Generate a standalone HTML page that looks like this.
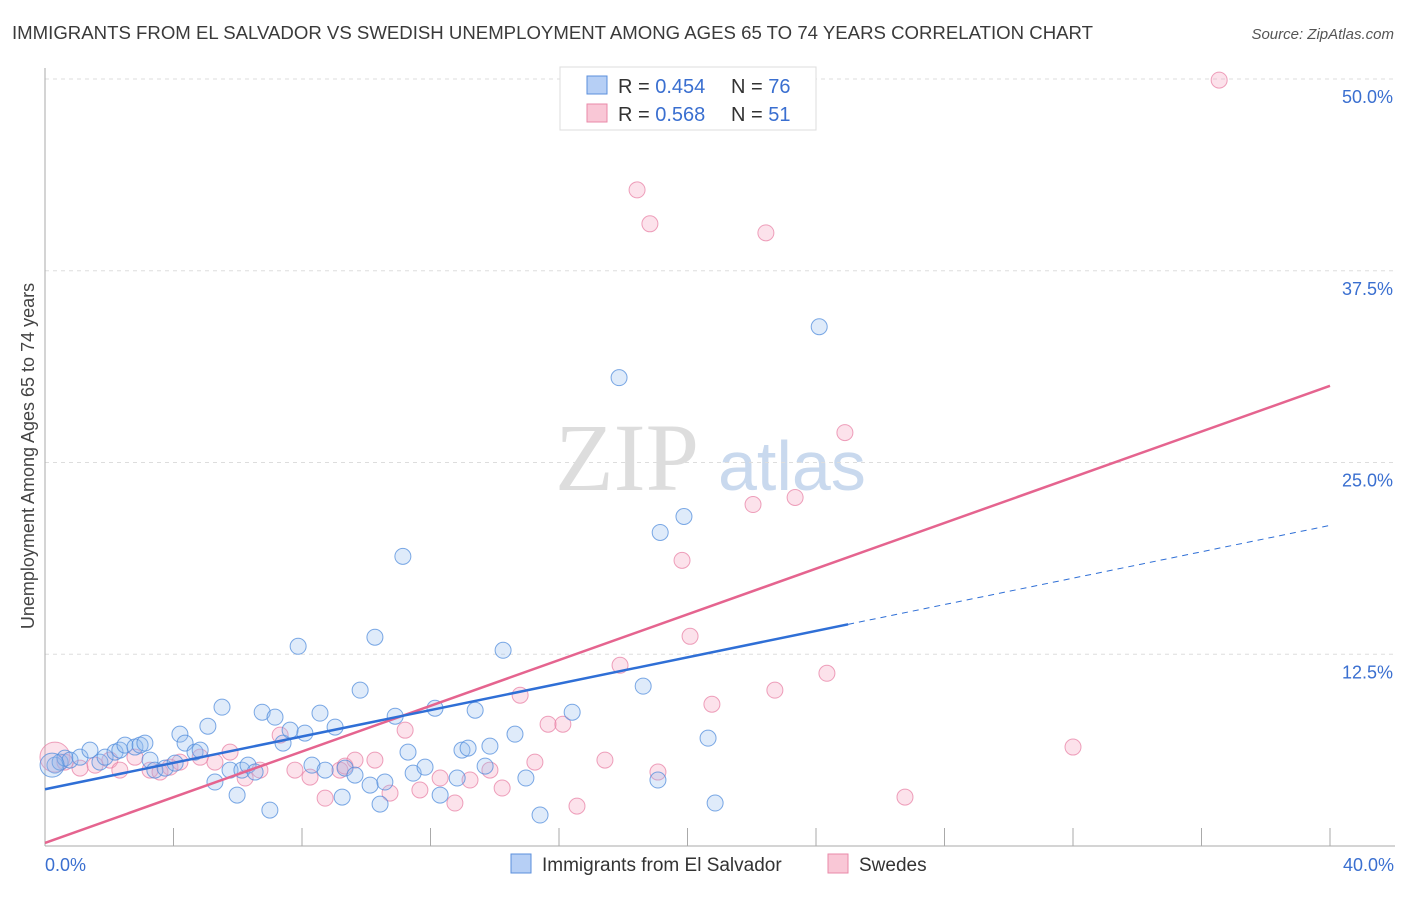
<!DOCTYPE html>
<html><head><meta charset="utf-8"><style>
body{margin:0;background:#fff;width:1406px;height:892px;overflow:hidden;font-family:"Liberation Sans",sans-serif}
</style></head><body>
<svg id="chart" width="1406" height="892" xmlns="http://www.w3.org/2000/svg" font-family="Liberation Sans, sans-serif">
<text x="12" y="39" font-size="18" fill="#3a3a3a" textLength="1081" lengthAdjust="spacingAndGlyphs">IMMIGRANTS FROM EL SALVADOR VS SWEDISH UNEMPLOYMENT AMONG AGES 65 TO 74 YEARS CORRELATION CHART</text>
<text x="1394" y="39" font-size="15" fill="#555" text-anchor="end" font-style="italic">Source: ZipAtlas.com</text>
<text x="555" y="490" font-size="96" fill="#ddd" font-family="Liberation Serif, serif">ZIP</text>
<text x="718" y="490" font-size="70" fill="#c9d9ee">atlas</text>
<g id="grid"></g><g id="axes"></g><g id="pts"></g><g id="lines"></g>
<text transform="translate(34,456) rotate(-90)" font-size="18" fill="#444" text-anchor="middle">Unemployment Among Ages 65 to 74 years</text>
<g>
<rect x="560" y="67" width="256" height="63" fill="#fff" stroke="#ddd"/>
<rect x="587" y="76" width="20" height="18" fill="#b6cff5" stroke="#5b8fdc"/>
<rect x="587" y="104" width="20" height="18" fill="#f9c7d6" stroke="#e98aa8"/>
<text x="618" y="93" font-size="20" fill="#333">R = <tspan fill="#3a6fd0">0.454</tspan></text>
<text x="731" y="93" font-size="20" fill="#333">N = <tspan fill="#3a6fd0">76</tspan></text>
<text x="618" y="121" font-size="20" fill="#333">R = <tspan fill="#3a6fd0">0.568</tspan></text>
<text x="731" y="121" font-size="20" fill="#333">N = <tspan fill="#3a6fd0">51</tspan></text>
</g>
<g>
<rect x="511" y="854" width="20" height="19" fill="#b6cff5" stroke="#5b8fdc"/>
<text x="542" y="871" font-size="19" fill="#333">Immigrants from El Salvador</text>
<rect x="828" y="854" width="20" height="19" fill="#f9c7d6" stroke="#e98aa8"/>
<text x="859" y="871" font-size="19" fill="#333">Swedes</text>
</g>
</svg>
<script>
const blueX=[0.31,0.47,0.62,0.78,1.09,1.40,1.71,1.87,2.18,2.33,2.49,2.80,2.96,3.11,3.27,3.42,3.74,4.05,4.20,4.36,4.67,4.83,5.07,5.29,5.51,5.76,5.98,6.13,6.32,6.54,6.76,7.00,7.16,7.41,7.63,7.88,8.09,8.31,8.56,8.72,9.03,9.25,9.34,9.65,9.81,10.12,10.27,10.43,10.58,10.90,11.14,11.30,11.46,11.83,12.14,12.30,12.83,12.98,13.17,13.39,13.70,13.85,14.26,14.63,14.97,15.41,16.41,17.87,18.62,19.08,19.15,19.89,20.64,20.86,24.10,0.22];
const blueY=[5.27,5.47,5.73,5.60,5.79,6.25,5.47,5.79,6.12,6.25,6.58,6.45,6.58,6.71,5.60,4.95,5.08,5.40,7.29,6.71,6.12,6.25,7.81,4.17,9.05,4.95,3.32,4.95,5.27,4.82,8.72,2.34,8.40,6.71,7.55,13.02,7.36,5.27,8.66,4.95,7.75,3.19,5.08,4.62,10.16,3.97,13.61,2.73,4.17,8.46,18.88,6.12,4.75,5.14,8.98,3.32,4.43,6.25,6.38,8.85,5.21,6.51,12.76,7.29,4.43,2.02,8.72,30.53,10.42,4.30,20.44,21.48,7.03,2.80,33.85,5.27];
const pinkX=[0.31,0.62,1.09,1.56,2.02,2.33,2.80,3.27,3.58,3.89,4.20,4.83,5.29,5.76,6.23,6.69,7.32,7.78,8.25,8.72,9.18,9.34,9.65,10.27,10.74,11.21,11.67,12.30,12.76,13.23,13.85,14.23,14.79,15.25,15.66,16.12,16.56,17.43,17.90,18.43,18.83,19.08,19.83,20.08,20.76,22.04,22.44,22.72,23.35,24.34,24.90,26.77,32.00,36.55];
const pinkY=[5.79,5.47,5.08,5.27,5.60,4.95,5.79,4.95,4.82,5.14,5.47,5.79,5.47,6.12,4.43,4.95,7.23,4.95,4.49,3.12,4.95,5.21,5.60,5.60,3.45,7.55,3.65,4.43,2.80,4.30,4.95,3.78,9.83,5.47,7.94,7.94,2.60,5.60,11.78,42.77,40.56,4.82,18.62,13.67,9.24,22.26,39.97,10.16,22.72,11.26,26.95,3.19,6.45,49.93];
const yTicks=[12.5,25,37.5,50];
const xTickVals=[0,4,8,12,16,20,24,28,32,36,40];
const blueFit=[3.7,20.9], blueSolidEnd=25.0;
const pinkFit=[0.2,30.0];
const NS='http://www.w3.org/2000/svg';
const X=v=>45+v/40*1285, Y=v=>846-v/50*767;
function mk(tag,parent,attrs){const e=document.createElementNS(NS,tag);for(const k in attrs)e.setAttribute(k,attrs[k]);document.getElementById(parent).appendChild(e);return e;}
yTicks.forEach(t=>{
 const l=mk('line','grid',{x1:45,x2:1395,y1:Y(t),y2:Y(t),stroke:'#ddd','stroke-dasharray':'4,4'});
 
 
 const tx=mk('text','grid',{x:1393,y:Y(t)+24,'font-size':18,fill:'#3a6fd0','text-anchor':'end'});tx.textContent=t.toFixed(1)+'%';
 
 
});
mk('line','axes',{x1:45,x2:45,y1:68,y2:846,stroke:'#aaa'});
mk('line','axes',{x1:45,x2:1395,y1:846,y2:846,stroke:'#aaa'});
xTickVals.forEach(t=>{if(t>0){const l=mk('line','axes',{x1:X(t),x2:X(t),y1:828,y2:846,stroke:'#aaa'});
 
 }});
[[0,'0.0%','start',45],[40,'40.0%','end',1394]].forEach(a=>{const t=mk('text','axes',{x:a[3],y:871,'font-size':18,fill:'#3a6fd0','text-anchor':a[2]});t.textContent=a[1];
 
 });
pinkX.forEach((x,i)=>{const c=mk('circle','pts',{cx:X(x),cy:Y(pinkY[i]),r:i===0?15:8,fill:'rgba(244,160,188,0.3)',stroke:'rgba(232,130,165,0.75)','stroke-width':1});
 
 });
blueX.forEach((x,i)=>{const c=mk('circle','pts',{cx:X(x),cy:Y(blueY[i]),r:i===75?12:8,fill:'rgba(150,190,240,0.3)',stroke:'rgba(80,140,220,0.75)','stroke-width':1});
 
 });
const by=x=>blueFit[0]+(blueFit[1]-blueFit[0])*x/40;
const p=mk('line','lines',{x1:X(0),y1:Y(pinkFit[0]),x2:X(40),y2:Y(pinkFit[1]),stroke:'#e5648f','stroke-width':2.5});


const b=mk('line','lines',{x1:X(0),y1:Y(by(0)),x2:X(blueSolidEnd),y2:Y(by(blueSolidEnd)),stroke:'#2f6fd6','stroke-width':2.5});


const bd=mk('line','lines',{x1:X(blueSolidEnd),y1:Y(by(blueSolidEnd)),x2:X(40),y2:Y(by(40)),stroke:'#2f6fd6','stroke-width':1,'stroke-dasharray':'6,5'});


</script>
</body></html>
